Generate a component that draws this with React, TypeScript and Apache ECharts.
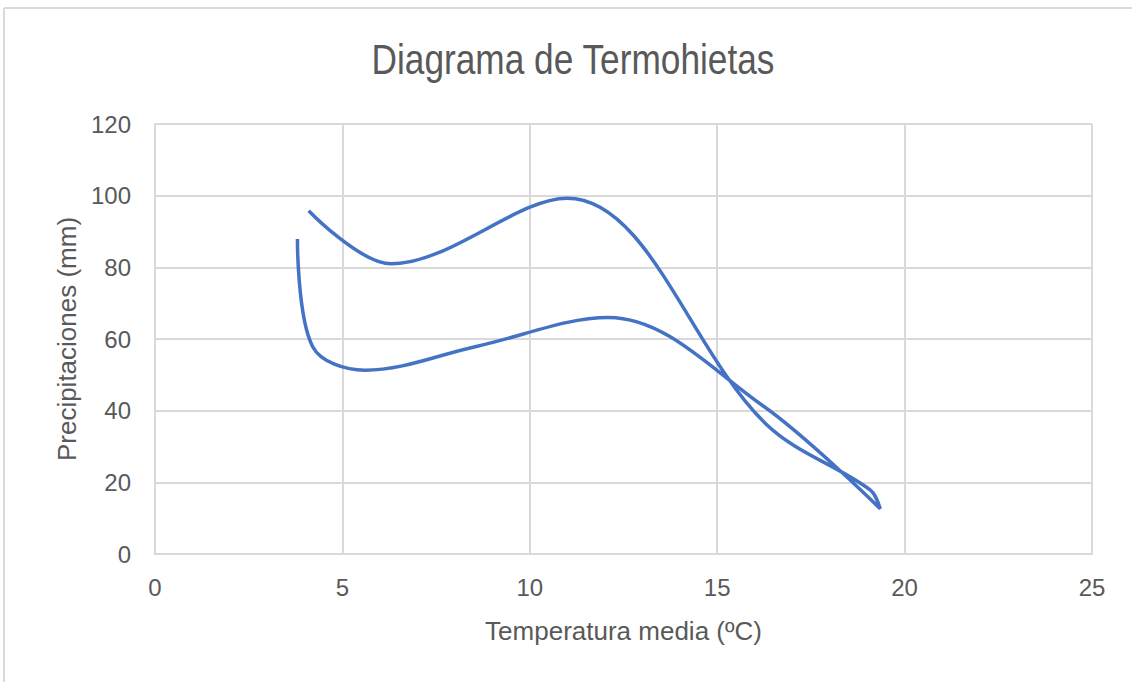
import React, { useEffect, useRef } from "react";
import * as echarts from "echarts";

const meses = ["Ene", "Feb", "Mar", "Abr", "May", "Jun", "Jul", "Ago", "Sep", "Oct", "Nov", "Dic"];
const temperatura = [3.8, 4.2, 5.6, 8.6, 12.1, 16.2, 19.35, 19.08, 16.3, 11.0, 6.3, 4.1];
const precipitacion = [87.9, 58.0, 51.3, 58.0, 66.0, 41.5, 12.6, 17.9, 36.3, 99.3, 81.0, 95.8];
const xTicks = { min: 0, max: 25, interval: 5 };
const yTicks = { min: 0, max: 120, interval: 20 };

const FONT = "'Liberation Sans', Arial, sans-serif";
const TEXT = "#595959";
const GRID = "#d9d9d9";

export default function App() {
  const ref = useRef<HTMLDivElement>(null);
  useEffect(() => {
    if (!ref.current) return;
    const chart = echarts.init(ref.current, undefined, { renderer: "svg" });
    chart.setOption({
      animation: false,
      backgroundColor: "#ffffff",
      textStyle: { fontFamily: FONT },
      graphic: [
        { type: "line", shape: { x1: 4, y1: 8, x2: 1132, y2: 8 }, style: { stroke: GRID, lineWidth: 2 } },
        { type: "line", shape: { x1: 4, y1: 8, x2: 4, y2: 682 }, style: { stroke: GRID, lineWidth: 2 } },
        {
          type: "text",
          x: 573,
          y: 37,
          scaleX: 0.82,
          style: {
            text: "Diagrama de Termohietas",
            fontFamily: FONT,
            fontSize: 43,
            fill: TEXT,
            textAlign: "center",
            textVerticalAlign: "top",
          },
        },
      ],
      grid: { left: 155, right: 40, top: 124, bottom: 128 },
      xAxis: {
        type: "value",
        ...xTicks,
        name: "Temperatura media (ºC)",
        nameLocation: "middle",
        nameGap: 64,
        nameTextStyle: { color: TEXT, fontSize: 26, fontFamily: FONT },
        axisLine: { show: true, lineStyle: { color: GRID, width: 2 } },
        axisTick: { show: false },
        axisLabel: { color: TEXT, fontSize: 24, margin: 21, fontFamily: FONT },
        splitLine: { show: true, lineStyle: { color: GRID, width: 2 } },
      },
      yAxis: {
        type: "value",
        ...yTicks,
        name: "Precipitaciones (mm)",
        nameLocation: "middle",
        nameGap: 67,
        nameTextStyle: { color: TEXT, fontSize: 26, fontFamily: FONT },
        axisLine: { show: true, lineStyle: { color: GRID, width: 2 } },
        axisTick: { show: false },
        axisLabel: { color: TEXT, fontSize: 24, margin: 24, fontFamily: FONT },
        splitLine: { show: true, lineStyle: { color: GRID, width: 2 } },
      },
      series: [
        {
          type: "line",
          name: "Termohietas",
          data: temperatura.map((t, i) => ({ name: meses[i], value: [t, precipitacion[i]] })),
          smooth: 0.35,
          showSymbol: false,
          lineStyle: { color: "#4472C4", width: 3.5 },
          itemStyle: { color: "#4472C4" },
        },
      ],
    });
    return () => chart.dispose();
  }, []);
  return (
    <div
      ref={ref}
      style={{ position: "absolute", left: 0, top: 0, width: 1132, height: 682 }}
    />
  );
}
